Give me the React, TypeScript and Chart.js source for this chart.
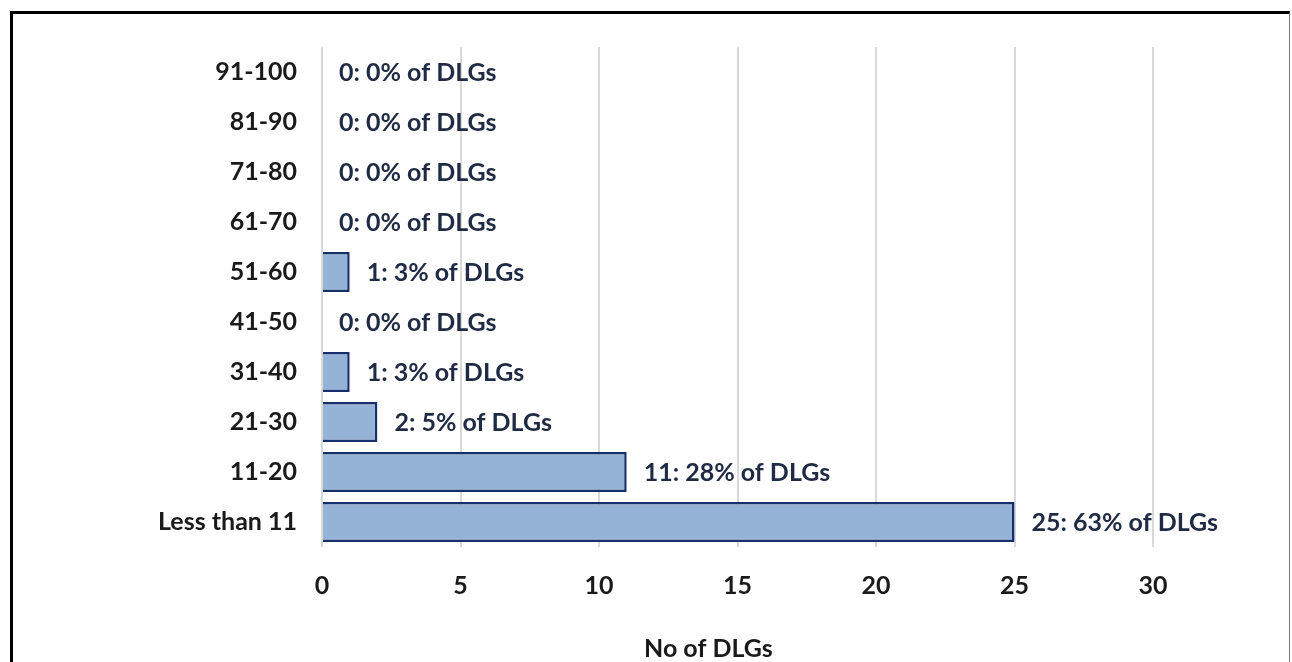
import React, { useEffect, useRef } from "react";
import { Chart, registerables } from "chart.js";

Chart.register(...registerables);

const categories = ["91-100", "81-90", "71-80", "61-70", "51-60", "41-50", "31-40", "21-30", "11-20", "Less than 11"];
const counts = [0, 0, 0, 0, 1, 0, 1, 2, 11, 25];
const percents = [0, 0, 0, 0, 3, 0, 3, 5, 28, 63];
const xMin = 0;
const xMax = 30;
const xStep = 5;
const axisTitle = "No of DLGs";

const FONT = "Lato, 'Open Sans', sans-serif";
const FONT_SIZE = 25;
const TEXT_DARK = "#1a1a1a";
const LABEL_NAVY = "#1F2A44";

const labelPlugin = {
  id: "barLabels",
  afterDatasetsDraw(chart: any) {
    const ctx = chart.ctx;
    const meta = chart.getDatasetMeta(0);
    ctx.save();
    ctx.font = `bold ${FONT_SIZE}px ${FONT}`;
    ctx.fillStyle = LABEL_NAVY;
    ctx.textBaseline = "middle";
    ctx.textAlign = "left";
    meta.data.forEach((bar: any, i: number) => {
      const text = `${counts[i]}: ${percents[i]}% of DLGs`;
      ctx.fillText(text, bar.x + 17, bar.y + 1);
    });
    ctx.restore();
  },
};

const titlePlugin = {
  id: "xTitle",
  afterDraw(chart: any) {
    const ctx = chart.ctx;
    const { left, right } = chart.chartArea;
    ctx.save();
    ctx.font = `bold ${FONT_SIZE}px ${FONT}`;
    ctx.fillStyle = TEXT_DARK;
    ctx.textBaseline = "middle";
    ctx.textAlign = "center";
    ctx.fillText(axisTitle, left + (right - left) * 0.465, chart.height - 13);
    ctx.restore();
  },
};

export default function App() {
  const canvasRef = useRef<HTMLCanvasElement | null>(null);

  useEffect(() => {
    const canvas = canvasRef.current;
    if (!canvas) return;
    const chart = new Chart(canvas, {
      type: "bar",
      data: {
        labels: categories,
        datasets: [
          {
            data: counts,
            backgroundColor: "#95B3D7",
            borderColor: "#17306A",
            borderWidth: 2.5,
            barPercentage: 0.8,
            categoryPercentage: 1,
          },
        ],
      },
      options: {
        indexAxis: "y",
        animation: false,
        responsive: false,
        devicePixelRatio: 1,
        layout: { padding: { top: 47, right: 139, bottom: 0, left: 0 } },
        plugins: {
          legend: { display: false },
          tooltip: { enabled: false },
          title: { display: false },
        },
        scales: {
          x: {
            min: xMin,
            max: xMax,
            ticks: {
              stepSize: xStep,
              font: { family: FONT, size: FONT_SIZE, weight: "bold" },
              color: TEXT_DARK,
              padding: 24,
            },
            grid: { color: "#d9d9d9", lineWidth: 2, drawTicks: false },
            border: { display: false },
            afterFit: (scale: any) => {
              scale.height = 115;
            },
          },
          y: {
            ticks: {
              font: { family: FONT, size: FONT_SIZE, weight: "bold" },
              color: TEXT_DARK,
              padding: 25,
            },
            grid: { display: false, drawTicks: false },
            border: { display: false },
            afterFit: (scale: any) => {
              scale.width = 322;
            },
          },
        },
      } as any,
      plugins: [labelPlugin, titlePlugin],
    });
    return () => chart.destroy();
  }, []);

  return (
    <div
      style={{
        position: "fixed",
        left: 0,
        top: 0,
        width: 1292,
        height: 662,
        overflow: "hidden",
        background: "#fff",
      }}
    >
      <div
        style={{
          position: "absolute",
          left: 10,
          top: 11,
          width: 1276,
          height: 800,
          borderTop: "3px solid #000",
          borderLeft: "3px solid #000",
          borderRight: "1px solid #777",
        }}
      />
      <canvas
        ref={canvasRef}
        width={1292}
        height={662}
        style={{ position: "absolute", left: 0, top: 0, width: 1292, height: 662 }}
      />
    </div>
  );
}
